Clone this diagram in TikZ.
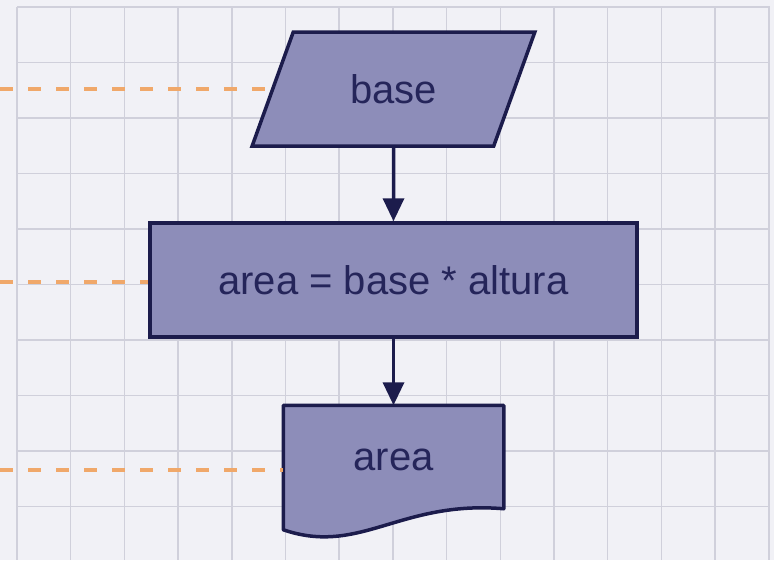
\documentclass[tikz,border=0pt]{standalone}
\usepackage{fontspec}
\setmainfont{Liberation Sans}
\usetikzlibrary{shapes.geometric,arrows.meta,positioning,backgrounds}
\definecolor{paper}{HTML}{F1F1F6}
\definecolor{gridgray}{HTML}{D0D0DB}
\definecolor{boxfill}{HTML}{8D8DB9}
\definecolor{edge}{HTML}{1C1C4C}
\definecolor{ink}{HTML}{25255A}
\definecolor{guidecol}{HTML}{F0A86A}

\begin{document}
\begin{tikzpicture}[x=1pt,y=-1pt,>={Triangle[length=23pt,width=21pt]},node distance=2cm,on grid]
\tikzset{block/.style={draw=edge,fill=boxfill,line width=3.5pt,text=ink,font=\fontsize{40}{48}\selectfont}}
\tikzset{guide/.style={guidecol,line width=3.5pt,dash pattern=on 13pt off 15pt}}
\tikzset{flow/.style={->,edge,line width=3.5pt}}
\useasboundingbox (0,0) rectangle (774,560);
\begin{scope}[on background layer]
  \fill[paper] (0,0) rectangle (774,560);
  \foreach \i in {0,...,14}
    \draw[gridgray,line width=1.5pt] (17+53.7*\i,7) -- (17+53.7*\i,560);
  \foreach \j in {0,...,10}
    \draw[gridgray,line width=1.5pt] (17,7+55.5*\j) -- (770,7+55.5*\j);
\end{scope}
  \node[block,trapezium,trapezium left angle=62,trapezium right angle=118,
        trapezium stretches=true,minimum width=283pt,minimum height=114pt]
                              (base) at (393.5,89)    {base};
  \node[block,minimum width=487pt,minimum height=114pt]
                              (calc) [below=191pt of base] {area = base * altura};
  \node[text=ink,font=\fontsize{40}{48}\selectfont,minimum width=217pt,minimum height=106pt,
        line width=3.5pt]     (area) [below=180pt of calc] {area};
\begin{scope}[on background layer]
  \draw[block,line join=round] (area.north west) -- (area.north east)
      -- ([yshift=6pt]area.south east)
      .. controls (400,500) and (360,556) .. ([yshift=-15pt]area.south west) -- cycle;
\end{scope}
  % connectors
  \draw[flow] (base.south) -- (calc.north);
  \draw[flow] (calc.south) -- (area.north);
  % guides from the left margin
  \coordinate (g1) at (0,89);
  \coordinate (g2) at (0,282);
  \coordinate (g3) at (0,470);
  \draw[guide] (g1) -- (g1 -| base.west);
  \draw[guide] (g2) -- (calc.west |- g2);
  \draw[guide] (g3) -- (area.west |- g3);
\end{tikzpicture}
\end{document}
